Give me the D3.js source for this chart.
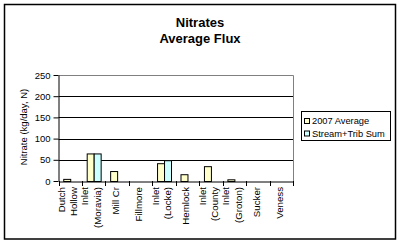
<!DOCTYPE html>
<html><head><meta charset="utf-8">
<script src="https://cdn.jsdelivr.net/npm/d3@7"></script>
<style>body{margin:0;background:#fff}svg{display:block}text{font-family:"Liberation Sans",Arial,sans-serif}</style>
</head><body>
<script>
const categories = ["Dutch Hollow","Inlet (Moravia)","Mill Cr","Fillmore","Inlet (Locke)","Hemlock","Inlet (County","Inlet (Groton)","Sucker","Veness"];
const categoryLines = [["Dutch","Hollow"],["Inlet","(Moravia)"],["Mill Cr"],["Fillmore"],["Inlet","(Locke)"],["Hemlock"],["Inlet","(County"],["Inlet","(Groton)"],["Sucker"],["Veness"]];
const seriesNames = ["2007 Average","Stream+Trib Sum"];
const avg2007 = [5,65,23.5,0,42,16,35,4,0,0];
const streamTrib = [null,65,null,null,49,null,null,null,null,null];
const yTicks = [0,50,100,150,200,250];
const seriesColors = ["#FFFFCC","#CCFFFF"];

const W=399,H=244;
const svg=d3.select("body").append("svg").attr("width",W).attr("height",H);
svg.append("rect").attr("x",4.5).attr("y",4.5).attr("width",391).attr("height",234.5)
  .attr("fill","#fff").attr("stroke","#000").attr("stroke-width",1.5);

const L=58.5,R=293,T=75,B=181;
const x=d3.scaleBand().domain(categories).range([L,R]).padding(0);
const xs=d3.scaleBand().domain(seriesNames).range([0,x.bandwidth()]).paddingInner(0).paddingOuter(0.68);
const y=d3.scaleLinear().domain([0,250]).range([B,T]);

svg.append("g").selectAll("line").data(yTicks.filter(d=>d>0&&d<250)).join("line")
  .attr("x1",L).attr("x2",R).attr("y1",d=>Math.round(y(d))+0.5).attr("y2",d=>Math.round(y(d))+0.5)
  .attr("stroke","#000").attr("stroke-width",1);
svg.append("path").attr("d",`M${L},${T+0.5}H${R+0.5}V${B}`).attr("fill","none").attr("stroke","#808080");

const data=[avg2007,streamTrib];
data.forEach((vals,si)=>{
  svg.append("g").selectAll("rect").data(vals.map((v,i)=>({v,c:categories[i]})).filter(d=>d.v!=null&&d.v>0)).join("rect")
    .attr("x",d=>x(d.c)+xs(seriesNames[si])+0.5)
    .attr("y",d=>y(d.v)+0.5)
    .attr("width",xs.bandwidth())
    .attr("height",d=>B-y(d.v))
    .attr("fill",seriesColors[si]).attr("stroke","#000").attr("stroke-width",1);
});

const ya=svg.append("g").attr("transform",`translate(${L},0)`)
  .call(d3.axisLeft(y).tickValues(yTicks).tickSize(5).tickSizeOuter(0));
ya.select(".domain").attr("stroke","#000");
ya.selectAll("line").attr("stroke","#000");
ya.selectAll("text").attr("font-size",9.5).attr("fill","#000").attr("x",-8).attr("font-family","Liberation Sans, Arial, sans-serif");

const xa=svg.append("g").attr("transform",`translate(0,${B+0.5})`)
  .call(d3.axisBottom(x).tickSize(0).tickFormat(""));
xa.select(".domain").attr("stroke","#000");
svg.append("g").selectAll("line").data(categories.concat(["__end"])).join("line")
  .attr("x1",(d,i)=>Math.round(L+i*x.step())+0.5).attr("x2",(d,i)=>Math.round(L+i*x.step())+0.5)
  .attr("y1",B).attr("y2",B+5).attr("stroke","#000");

const lab=svg.append("g");
categoryLines.forEach((lines,i)=>{
  const cx=x(categories[i])+x.bandwidth()/2;
  const n=lines.length;
  lines.forEach((t,j)=>{
    const off=(n===1? -1.5 : -2.5 + (j-(n-1)/2)*12.5);
    lab.append("text").attr("transform",`translate(${cx+off},187) rotate(-90)`)
      .attr("text-anchor","end").attr("dy","0.35em").attr("font-size",9.7).attr("fill","#000").text(t);
  });
});

svg.append("text").attr("transform","translate(24,127) rotate(-90)").attr("text-anchor","middle")
  .attr("dy","0.35em").attr("font-size",9.5).text("Nitrate (kg/day, N)");

svg.append("text").attr("x",200).attr("y",27).attr("text-anchor","middle").attr("font-size",13).attr("font-weight","bold").text("Nitrates");
svg.append("text").attr("x",200).attr("y",42.5).attr("text-anchor","middle").attr("font-size",13).attr("font-weight","bold").text("Average Flux");

const lg=svg.append("g");
lg.append("rect").attr("x",301.5).attr("y",111.5).attr("width",89).attr("height",29).attr("fill","#fff").attr("stroke","#000");
seriesNames.forEach((s,i)=>{
  const yy=120.5+i*12.5;
  lg.append("rect").attr("x",304.5).attr("y",yy-2).attr("width",5).attr("height",5).attr("fill",seriesColors[i]).attr("stroke","#000");
  lg.append("text").attr("x",312).attr("y",yy+3.8).attr("font-size",9.3).text(s);
});
</script>
</body></html>
